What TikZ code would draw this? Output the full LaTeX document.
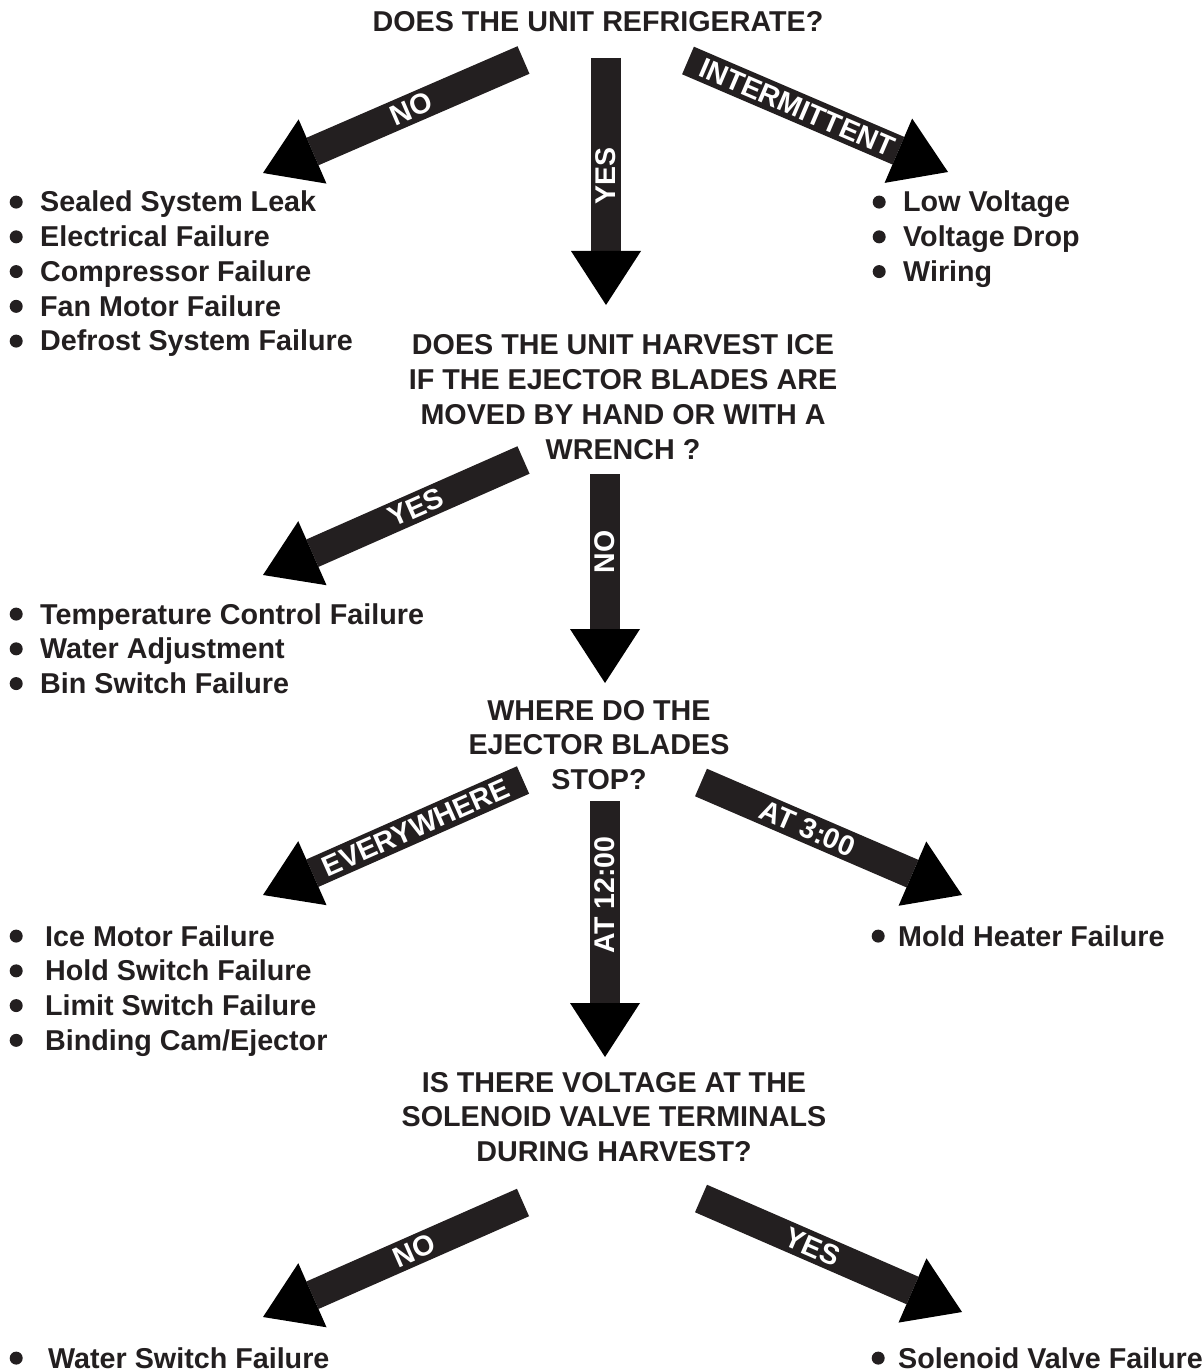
\documentclass[tikz,border=0pt]{standalone}
\usepackage{fontspec}
\setmainfont{Liberation Sans}
\usetikzlibrary{arrows.meta}
\definecolor{ink}{RGB}{35,31,32}
\newcommand\bul[1]{\llap{\raisebox{3.4pt}{\tikz\fill[ink] (0,0) circle (6.5pt);}\hspace{#1}}}
\begin{document}
\begin{tikzpicture}[x=1pt,y=-1pt,
  every node/.style={font=\fontsize{28.7}{34.75}\selectfont\bfseries, text=ink, inner sep=0pt},
  question/.style={align=center},
  itemlist/.style={align=left, anchor=north west},
  bigarrow/.style={draw=ink, line width=30pt, line cap=butt,
    -{Triangle[width=70pt,length=54pt,line width=0pt]}},
  arrowlabel/.style={text=white, font=\fontsize{28.5}{30}\selectfont\bfseries}]
\useasboundingbox (0,0) rectangle (1203,1372);

% questions
\node[question] (q1) at (598,22) {DOES THE UNIT REFRIGERATE?};
\node[question] (q2) at (623,397) {DOES THE UNIT HARVEST ICE\\IF THE EJECTOR BLADES ARE\\MOVED BY HAND OR WITH A\\WRENCH ?};
\node[question] (q3) at (599,745) {WHERE DO THE\\EJECTOR BLADES\\STOP?};
\node[question] (q4) at (614,1117) {IS THERE VOLTAGE AT THE\\SOLENOID VALVE TERMINALS\\DURING HARVEST?};

% lists
\node[itemlist] (l1) at (40,191) {\bul{17.5pt}Sealed System Leak\\\bul{17.5pt}Electrical Failure\\\bul{17.5pt}Compressor Failure\\\bul{17.5pt}Fan Motor Failure\\\bul{17.5pt}Defrost System Failure};
\node[itemlist] (r1) at (903,191) {\bul{17.5pt}Low Voltage\\\bul{17.5pt}Voltage Drop\\\bul{17.5pt}Wiring};
\node[itemlist] (l2) at (40,603) {\bul{17.5pt}Temperature Control Failure\\\bul{17.5pt}Water Adjustment\\\bul{17.5pt}Bin Switch Failure};
\node[itemlist] (l3) at (45,925) {\bul{22.5pt}Ice Motor Failure\\\bul{22.5pt}Hold Switch Failure\\\bul{22.5pt}Limit Switch Failure\\\bul{22.5pt}Binding Cam/Ejector};
\node[itemlist] (r3) at (898,925) {\bul{13.5pt}Mold Heater Failure};
\node[itemlist] (l4) at (48,1347) {\bul{25.5pt}Water Switch Failure};
\node[itemlist] (r4) at (898,1347) {\bul{13.5pt}Solenoid Valve Failure};

% arrow end points
\coordinate (a1s) at (523.5,60);  \coordinate (a1e) at (263,173);
\coordinate (a2s) at (606,58);    \coordinate (a2e) at (606,305);
\coordinate (a3s) at (688,60.5);  \coordinate (a3e) at (948,172);
\coordinate (a4s) at (523.5,460); \coordinate (a4e) at (263,575);
\coordinate (a5s) at (605,474);   \coordinate (a5e) at (605,683);
\coordinate (a6s) at (523,780);   \coordinate (a6e) at (263,895);
\coordinate (a7s) at (605,801);   \coordinate (a7e) at (605,1057);
\coordinate (a8s) at (701,782.5); \coordinate (a8e) at (962,895);
\coordinate (a9s) at (523,1202.5);\coordinate (a9e) at (263,1317);
\coordinate (a10s) at (701,1198.5);\coordinate (a10e) at (962,1312);

% arrows
\draw[bigarrow] (a1s) -- node[arrowlabel, pos=0.43, sloped] {NO} (a1e);
\draw[bigarrow] (a2s) -- node[arrowlabel, pos=0.476, rotate=90] {YES} (a2e);
\draw[bigarrow] (a3s) -- node[arrowlabel, pos=0.42, sloped] {INTERMITTENT} (a3e);
\draw[bigarrow] (a4s) -- node[arrowlabel, pos=0.413, sloped] {YES} (a4e);
\draw[bigarrow] (a5s) -- node[arrowlabel, pos=0.372, rotate=90] {NO} (a5e);
\draw[bigarrow] (a6s) -- node[arrowlabel, pos=0.412, sloped] {EVERYWHERE} (a6e);
\draw[bigarrow] (a7s) -- node[arrowlabel, pos=0.366, rotate=90] {AT 12:00} (a7e);
\draw[bigarrow] (a8s) -- node[arrowlabel, pos=0.408, sloped] {AT 3:00} (a8e);
\draw[bigarrow] (a9s) -- node[arrowlabel, pos=0.42, sloped] {NO} (a9e);
\draw[bigarrow] (a10s) -- node[arrowlabel, pos=0.427, sloped] {YES} (a10e);
\end{tikzpicture}
\end{document}
